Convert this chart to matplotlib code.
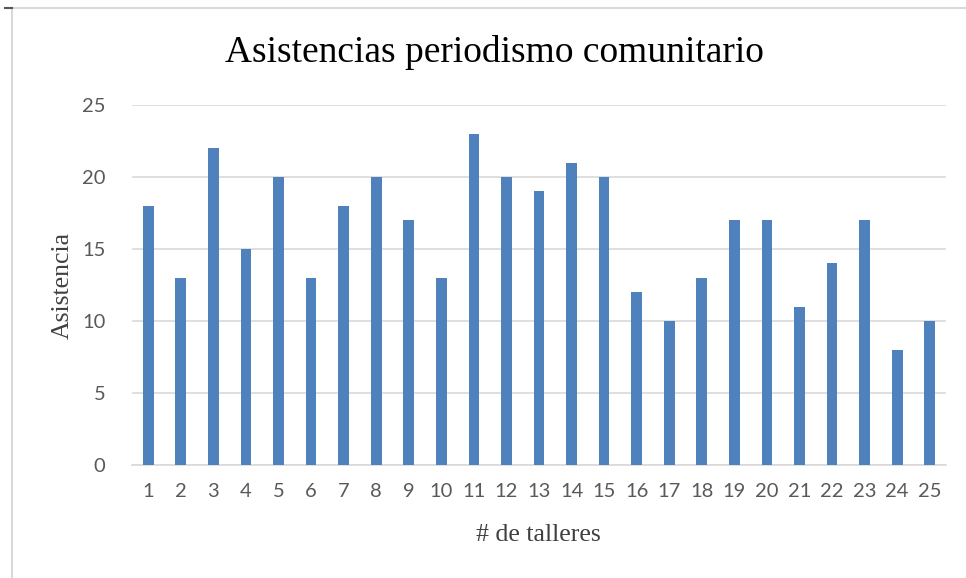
import matplotlib
matplotlib.use("Agg")
import matplotlib.pyplot as plt
from matplotlib.lines import Line2D

talleres = list(range(1, 26))
asistencia = [18, 13, 22, 15, 20, 13, 18, 20, 17, 13, 23, 20, 19, 21, 20,
              12, 10, 13, 17, 17, 11, 14, 17, 8, 10]
yticks = [0, 5, 10, 15, 20, 25]

fig = plt.figure(figsize=(9.66, 5.78), dpi=100)
ax = fig.add_axes([132/966, 1-465/578, (946-132)/966, (465-105)/578])

ax.bar(talleres, asistencia, width=0.33, color="#4F81BD", zorder=3)
ax.set_xlim(0.5, 25.5)
ax.set_ylim(0, 25)
ax.set_yticks(yticks)
ax.set_xticks(talleres)
ax.grid(axis="y", color="#D9D9D9", linewidth=1.2, zorder=0)
for s in ["top", "right", "left"]:
    ax.spines[s].set_visible(False)
ax.spines["bottom"].set_color("#D9D9D9")
ax.spines["bottom"].set_linewidth(1.2)
ax.tick_params(axis="both", length=0, labelsize=14.5, labelcolor="#595959")
for lab in ax.get_xticklabels() + ax.get_yticklabels():
    lab.set_fontfamily("Lato")
ax.tick_params(axis="x", pad=13)
ax.tick_params(axis="y", pad=19)

fig.text(494/966, 1-52/578, "Asistencias periodismo comunitario",
         ha="center", va="center", fontsize=27, family="Liberation Serif", color="black")
fig.text(63/966, 1-285/578, "Asistencia", rotation=90, ha="center", va="center",
         fontsize=18.5, family="Liberation Serif", color="#404040")
fig.text(538/966, 1-535/578, "# de talleres", ha="center", va="center",
         fontsize=18.5, family="Liberation Serif", color="#404040")

# outer frame lines
fig.add_artist(Line2D([12/966, 1], [1-8/578, 1-8/578], color="#D9D9D9", linewidth=1.5,
                      transform=fig.transFigure))
fig.add_artist(Line2D([12/966, 12/966], [0, 1-8/578], color="#D9D9D9", linewidth=1.5,
                      transform=fig.transFigure))
fig.add_artist(Line2D([5/966, 12/966], [1-8/578, 1-8/578], color="#555555", linewidth=1.5,
                      transform=fig.transFigure))

fig.savefig("out.png", dpi=100, facecolor="white")
